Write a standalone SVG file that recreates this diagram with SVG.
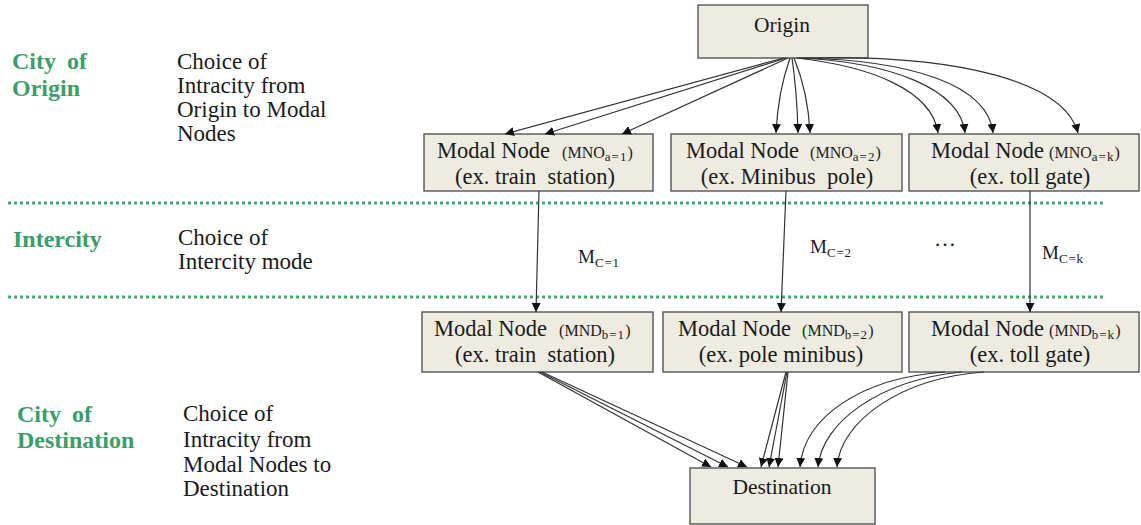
<svg xmlns="http://www.w3.org/2000/svg" width="1141" height="525" viewBox="0 0 1141 525" font-family="Liberation Serif, serif">
<style>
.box{fill:#eeece1;stroke:#555;stroke-width:1.4}
text{font-family:Liberation Serif, serif}
.t{fill:#1a1a1a}
.nl{font-size:22.5px}
.big{font-size:21.5px}
.sm{font-size:16px}
.sb{font-size:13px;letter-spacing:1px}
.ms{font-size:13px;letter-spacing:0.8px}
.mm{font-size:19px}
.g{font-weight:bold;font-size:24px;fill:#3a9e6a}
.side{font-size:23px;fill:#1a1a1a}
.c{fill:none;stroke:#333;stroke-width:1.2;marker-end:url(#ah)}
.dot{stroke:#3fae72;stroke-width:3;stroke-dasharray:3 3}
</style>
<defs>
<marker id="ah" viewBox="0 0 10 10" refX="10" refY="5" markerWidth="9" markerHeight="9" markerUnits="userSpaceOnUse" orient="auto">
<path d="M0,0 L10,5 L0,10 z" fill="#111"/>
</marker>
</defs>
<rect width="1141" height="525" fill="#fff"/>

<g id="bands">
<line class="dot" x1="8" y1="203" x2="1105" y2="203"/>
<line class="dot" x1="8" y1="297" x2="1105" y2="297"/>
</g>

<g id="side-labels">
<text class="g" x="12" y="69" style="word-spacing:5px">City of</text>
<text class="g" x="12" y="96">Origin</text>
<text class="side" x="177" y="69">Choice of</text>
<text class="side" x="177" y="93">Intracity from</text>
<text class="side" x="177" y="117">Origin to Modal</text>
<text class="side" x="177" y="141">Nodes</text>
<text class="g" x="13" y="247">Intercity</text>
<text class="side" x="178" y="245">Choice of</text>
<text class="side" x="178" y="269">Intercity mode</text>
<text class="g" x="17" y="422" style="word-spacing:5px">City of</text>
<text class="g" x="17" y="448">Destination</text>
<text class="side" x="183" y="421">Choice of</text>
<text class="side" x="183" y="447">Intracity from</text>
<text class="side" x="183" y="472">Modal Nodes to</text>
<text class="side" x="183" y="496">Destination</text>
</g>

<g id="origin">
<rect class="box" x="698" y="5" width="170" height="53"/>
<text class="t big" x="782" y="32" text-anchor="middle">Origin</text>
</g>

<g id="mno1">
<rect class="box" x="424" y="134" width="229" height="57"/>
<text class="t" x="437" y="158"><tspan class="nl">Modal Node</tspan><tspan class="sm" dx="12">(MNO</tspan><tspan class="sb" dy="3">a=1</tspan><tspan class="sm" dy="-3">)</tspan></text>
<text class="t nl" x="535" y="184" text-anchor="middle">(ex. train&#160; station)</text>
</g>
<g id="mno2">
<rect class="box" x="671" y="134" width="231" height="57"/>
<text class="t" x="686" y="158"><tspan class="nl">Modal Node</tspan><tspan class="sm" dx="11">(MNO</tspan><tspan class="sb" dy="3">a=2</tspan><tspan class="sm" dy="-3">)</tspan></text>
<text class="t nl" x="787" y="184" text-anchor="middle">(ex. Minibus&#160; pole)</text>
</g>
<g id="mnok">
<rect class="box" x="909" y="134" width="230" height="57"/>
<text class="t" x="931" y="158"><tspan class="nl">Modal Node</tspan><tspan class="sm" dx="5">(MNO</tspan><tspan class="sb" dy="3">a=k</tspan><tspan class="sm" dy="-3">)</tspan></text>
<text class="t nl" x="1030" y="184" text-anchor="middle">(ex. toll gate)</text>
</g>

<g id="mnd1">
<rect class="box" x="422" y="312" width="231" height="60"/>
<text class="t" x="434" y="336"><tspan class="nl">Modal Node</tspan><tspan class="sm" dx="12">(MND</tspan><tspan class="sb" dy="3">b=1</tspan><tspan class="sm" dy="-3">)</tspan></text>
<text class="t nl" x="535" y="362" text-anchor="middle">(ex. train&#160; station)</text>
</g>
<g id="mnd2">
<rect class="box" x="663" y="312" width="239" height="60"/>
<text class="t" x="678" y="336"><tspan class="nl">Modal Node</tspan><tspan class="sm" dx="11">(MND</tspan><tspan class="sb" dy="3">b=2</tspan><tspan class="sm" dy="-3">)</tspan></text>
<text class="t nl" x="781" y="362" text-anchor="middle">(ex. pole minibus)</text>
</g>
<g id="mndk">
<rect class="box" x="909" y="312" width="230" height="60"/>
<text class="t" x="931" y="336"><tspan class="nl">Modal Node</tspan><tspan class="sm" dx="5">(MND</tspan><tspan class="sb" dy="3">b=k</tspan><tspan class="sm" dy="-3">)</tspan></text>
<text class="t nl" x="1030" y="362" text-anchor="middle">(ex. toll gate)</text>
</g>

<g id="destination">
<rect class="box" x="690" y="468" width="185" height="56"/>
<text class="t big" x="782" y="494" text-anchor="middle">Destination</text>
</g>

<g id="mode-labels">
<text class="t" x="578" y="263"><tspan class="mm">M</tspan><tspan class="ms" dy="4">C=1</tspan></text>
<text class="t" x="810" y="253"><tspan class="mm">M</tspan><tspan class="ms" dy="4">C=2</tspan></text>
<text class="t" x="934" y="246" style="font-size:22px">…</text>
<text class="t" x="1042" y="259"><tspan class="mm">M</tspan><tspan class="ms" dy="4">C=k</tspan></text>
</g>

<g id="connectors">
<path class="c" d="M784,58 L505,134"/>
<path class="c" d="M786,58 L545,134"/>
<path class="c" d="M788,58 L622,134"/>
<path class="c" d="M790,58 Q778,92 776,133"/>
<path class="c" d="M792,58 Q797,92 798,133"/>
<path class="c" d="M794,58 Q808,92 810,133"/>
<path class="c" d="M796,58 C870,66 932,90 938,133"/>
<path class="c" d="M798,58 C890,62 960,88 965,133"/>
<path class="c" d="M800,58 C912,60 988,85 993,133"/>
<path class="c" d="M804,58 C960,54 1065,82 1078,133"/>
<path class="c" d="M539,191 L536,312"/>
<path class="c" d="M786,191 L781,312"/>
<path class="c" d="M1030,191 L1030,312"/>
<path class="c" d="M538,372 L711,467"/>
<path class="c" d="M540,372 L728,467"/>
<path class="c" d="M542,372 L747,467"/>
<path class="c" d="M786,372 L761,467"/>
<path class="c" d="M787,372 L769,467"/>
<path class="c" d="M788,372 L778,467"/>
<path class="c" d="M945,372 C860,378 804,418 800,467"/>
<path class="c" d="M962,372 C880,380 822,422 818,467"/>
<path class="c" d="M984,372 C900,378 840,422 837,467"/>
</g>
</svg>
